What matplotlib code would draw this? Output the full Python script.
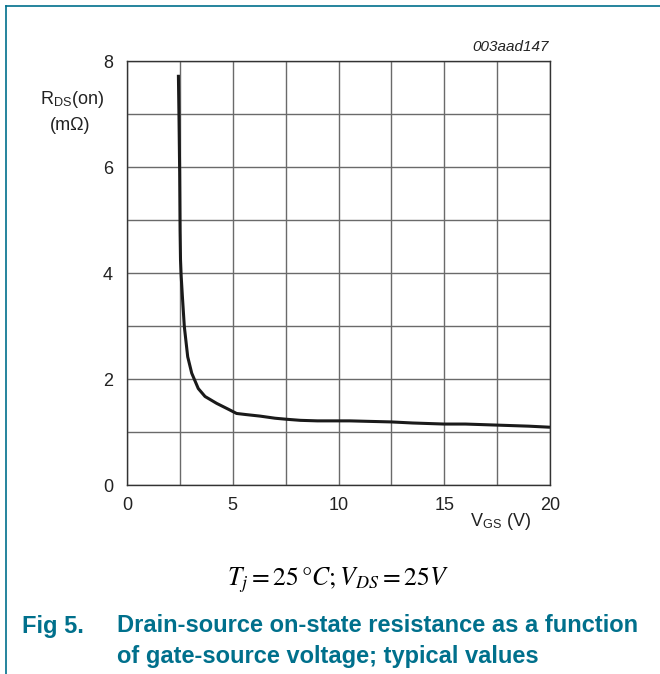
import numpy as np
import matplotlib
matplotlib.use('Agg')
import matplotlib.pyplot as plt
from matplotlib.lines import Line2D

plt.rcParams['font.family'] = ['Liberation Sans', 'DejaVu Sans']
plt.rcParams['mathtext.fontset'] = 'stix'

# ==> Curve data (VGS in V, RDS(on) in mOhm)
vgs = [2.43, 2.46, 2.49, 2.51, 2.53, 2.56, 2.62, 2.71, 2.87, 3.06, 3.37, 3.69,
       4.24, 4.79, 5.18, 5.60, 6.29, 7.00, 7.55, 8.20, 9.00,
       10.54, 11.5, 12.5, 13.5, 15.0, 16.0, 17.5, 19.0, 20.0]
rds = [7.74, 6.90, 5.90, 4.80, 4.25, 3.95, 3.55, 2.99, 2.42, 2.11, 1.82, 1.67,
       1.54, 1.43, 1.35, 1.33, 1.30, 1.26, 1.24, 1.22, 1.21,
       1.21, 1.20, 1.19, 1.17, 1.15, 1.15, 1.13, 1.11, 1.09]

x_ticks = [0, 5, 10, 15, 20]
y_ticks = [0, 2, 4, 6, 8]

teal = '#00708c'

fig = plt.figure(figsize=(6.6, 6.74), dpi=100)
ax = fig.add_axes([127/660, 1 - 485/674, 423/660, 424/674])

ax.plot(vgs, rds, color='#1a1a1a', lw=2.2, solid_capstyle='butt',
        solid_joinstyle='round')

ax.set_xlim(0, 20)
ax.set_ylim(0, 8)
ax.set_xticks(x_ticks)
ax.set_yticks(y_ticks)
ax.set_xticks(np.arange(0, 20.1, 2.5), minor=True)
ax.set_yticks(np.arange(0, 8.1, 1), minor=True)
ax.grid(which='both', color='#6a6a6a', lw=1.0)
ax.tick_params(which='both', length=0, labelsize=13, colors='#222222')
ax.tick_params(axis='x', pad=9)
ax.tick_params(axis='y', pad=10)
for s in ax.spines.values():
    s.set_color('#333333')
    s.set_linewidth(1.0)

# Axis labels placed like the datasheet
fig.text(40/660, 1 - 100/674, r'R$_{\mathregular{DS}}$(on)', fontsize=13,
         va='center', ha='left', color='#222222')
fig.text(50/660, 1 - 126/674, '(m\u03a9)', fontsize=13,
         va='center', ha='left', color='#222222')
fig.text(470/660, 1 - 522/674, r'V$_{\mathregular{GS}}$ (V)', fontsize=13,
         va='center', ha='left', color='#222222')
fig.text(549/660, 1 - 47/674, '003aad147', fontsize=11, style='italic',
         va='center', ha='right', color='#222222')

# Conditions line
fig.text(338/660, 1 - 580/674, r'$T_j = 25\,°C;V_{DS} = 25V$', fontsize=18.5,
         ha='center', va='center', color='black')

# Caption
fig.text(22/660, 1 - 626/674, 'Fig 5.', fontsize=17, weight='bold',
         color=teal, va='center', ha='left')
fig.text(117/660, 1 - 626/674, 'Drain-source on-state resistance as a function',
         fontsize=17, weight='bold', color=teal, va='center', ha='left')
fig.text(117/660, 1 - 656/674, 'of gate-source voltage; typical values',
         fontsize=17, weight='bold', color=teal, va='center', ha='left')

# Frame lines (top and left)
fig.add_artist(Line2D([6/660, 1], [1 - 6/674, 1 - 6/674], color=teal, lw=1.2))
fig.add_artist(Line2D([6/660, 6/660], [0, 1 - 6/674], color=teal, lw=1.2))

fig.savefig('out.png', dpi=100)
